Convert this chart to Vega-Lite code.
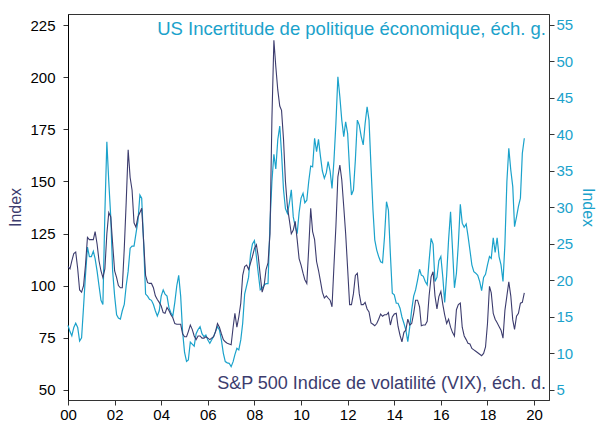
{
"$schema": "https://vega.github.io/schema/vega-lite/v6.json",
"width": 481, "height": 386,
"autosize": {"type": "none"},
"padding": {"left": 68, "top": 14, "right": 59, "bottom": 25},
"background": "white",
"config": {"font": "Liberation Sans", "view": {"stroke": "#333333", "strokeWidth": 1}, "axis": {"grid": false, "labelFontSize": 15, "tickSize": 5, "titleFontWeight": "normal", "titleFontSize": 16}},
"datasets": {
"series": [
{"d":"2000-01-01","epu":81,"vix":21.9},{"d":"2000-02-01","epu":78,"vix":21.6},{"d":"2000-03-01","epu":76,"vix":22.7},{"d":"2000-04-01","epu":80,"vix":23.7},{"d":"2000-05-01","epu":82,"vix":23.9},{"d":"2000-06-01","epu":80,"vix":21.6},{"d":"2000-07-01","epu":73.5,"vix":18.7},{"d":"2000-08-01","epu":75,"vix":18.4},{"d":"2000-09-01","epu":90,"vix":19.3},{"d":"2000-10-01","epu":105,"vix":22.1},{"d":"2000-11-01","epu":118.5,"vix":25.9},{"d":"2000-12-01","epu":114,"vix":25.6},
{"d":"2001-01-01","epu":114,"vix":25.6},{"d":"2001-02-01","epu":116.5,"vix":25.6},{"d":"2001-03-01","epu":113,"vix":26.7},{"d":"2001-04-01","epu":107,"vix":25.0},{"d":"2001-05-01","epu":100,"vix":22.7},{"d":"2001-06-01","epu":93,"vix":21.3},{"d":"2001-07-01","epu":91,"vix":20.4},{"d":"2001-08-01","epu":135,"vix":21.6},{"d":"2001-09-01","epu":169,"vix":26.4},{"d":"2001-10-01","epu":150,"vix":29.3},{"d":"2001-11-01","epu":133,"vix":28.7},{"d":"2001-12-01","epu":107,"vix":25.0},
{"d":"2002-01-01","epu":95,"vix":21.3},{"d":"2002-02-01","epu":86,"vix":20.4},{"d":"2002-03-01","epu":84.5,"vix":19.3},{"d":"2002-04-01","epu":84,"vix":19.0},{"d":"2002-05-01","epu":88,"vix":19.0},{"d":"2002-06-01","epu":91,"vix":24.4},{"d":"2002-07-01","epu":100,"vix":30.7},{"d":"2002-08-01","epu":107,"vix":37.9},{"d":"2002-09-01","epu":118,"vix":34.1},{"d":"2002-10-01","epu":119,"vix":32.4},{"d":"2002-11-01","epu":119,"vix":27.9},{"d":"2002-12-01","epu":125,"vix":27.3},
{"d":"2003-01-01","epu":131,"vix":28.7},{"d":"2003-02-01","epu":143.5,"vix":29.3},{"d":"2003-03-01","epu":142,"vix":29.9},{"d":"2003-04-01","epu":120,"vix":25.3},{"d":"2003-05-01","epu":96,"vix":20.7},{"d":"2003-06-01","epu":95,"vix":19.7},{"d":"2003-07-01","epu":93.5,"vix":19.6},{"d":"2003-08-01","epu":93,"vix":19.6},{"d":"2003-09-01","epu":91,"vix":19.0},{"d":"2003-10-01","epu":88,"vix":17.9},{"d":"2003-11-01","epu":85.5,"vix":17.4},{"d":"2003-12-01","epu":88,"vix":17.0},
{"d":"2004-01-01","epu":95,"vix":16.5},{"d":"2004-02-01","epu":98,"vix":15.6},{"d":"2004-03-01","epu":96,"vix":15.5},{"d":"2004-04-01","epu":95,"vix":16.3},{"d":"2004-05-01","epu":89.5,"vix":15.9},{"d":"2004-06-01","epu":87,"vix":15.3},{"d":"2004-07-01","epu":85.5,"vix":14.9},{"d":"2004-08-01","epu":92,"vix":14.1},{"d":"2004-09-01","epu":100,"vix":14.0},{"d":"2004-10-01","epu":105,"vix":14.0},{"d":"2004-11-01","epu":95,"vix":14.0},{"d":"2004-12-01","epu":78,"vix":12.7},
{"d":"2005-01-01","epu":68,"vix":12.3},{"d":"2005-02-01","epu":63.7,"vix":12.3},{"d":"2005-03-01","epu":64.4,"vix":13.0},{"d":"2005-04-01","epu":73,"vix":13.9},{"d":"2005-05-01","epu":72,"vix":13.3},{"d":"2005-06-01","epu":71,"vix":12.4},{"d":"2005-07-01","epu":77,"vix":11.9},{"d":"2005-08-01","epu":79,"vix":12.4},{"d":"2005-09-01","epu":80.4,"vix":12.4},{"d":"2005-10-01","epu":77,"vix":12.1},{"d":"2005-11-01","epu":75.6,"vix":12.1},{"d":"2005-12-01","epu":76.4,"vix":12.3},
{"d":"2006-01-01","epu":74,"vix":12.1},{"d":"2006-02-01","epu":72.4,"vix":11.9},{"d":"2006-03-01","epu":74,"vix":12.1},{"d":"2006-04-01","epu":75.6,"vix":12.3},{"d":"2006-05-01","epu":78,"vix":13.0},{"d":"2006-06-01","epu":80.4,"vix":14.1},{"d":"2006-07-01","epu":78.8,"vix":13.6},{"d":"2006-08-01","epu":74,"vix":12.7},{"d":"2006-09-01","epu":67.6,"vix":11.9},{"d":"2006-10-01","epu":63.6,"vix":11.6},{"d":"2006-11-01","epu":63,"vix":11.4},{"d":"2006-12-01","epu":62.8,"vix":11.3},
{"d":"2007-01-01","epu":61.2,"vix":11.2},{"d":"2007-02-01","epu":63.6,"vix":13.6},{"d":"2007-03-01","epu":67,"vix":15.5},{"d":"2007-04-01","epu":70,"vix":13.6},{"d":"2007-05-01","epu":69.2,"vix":15.0},{"d":"2007-06-01","epu":74,"vix":16.9},{"d":"2007-07-01","epu":82,"vix":20.7},{"d":"2007-08-01","epu":96,"vix":21.9},{"d":"2007-09-01","epu":100,"vix":22.1},{"d":"2007-10-01","epu":104,"vix":21.5},{"d":"2007-11-01","epu":115,"vix":22.4},{"d":"2007-12-01","epu":120,"vix":23.3},
{"d":"2008-01-01","epu":121.6,"vix":24.4},{"d":"2008-02-01","epu":114,"vix":24.9},{"d":"2008-03-01","epu":106,"vix":23.3},{"d":"2008-04-01","epu":98,"vix":20.7},{"d":"2008-05-01","epu":98.8,"vix":18.4},{"d":"2008-06-01","epu":100.4,"vix":19.3},{"d":"2008-07-01","epu":101,"vix":21.5},{"d":"2008-08-01","epu":101,"vix":22.4},{"d":"2008-09-01","epu":130,"vix":26.4},{"d":"2008-10-01","epu":150,"vix":42.1},{"d":"2008-11-01","epu":163,"vix":52.9},{"d":"2008-12-01","epu":156,"vix":49.3},
{"d":"2009-01-01","epu":170,"vix":46.1},{"d":"2009-02-01","epu":176.6,"vix":43.9},{"d":"2009-03-01","epu":163.5,"vix":43.3},{"d":"2009-04-01","epu":146,"vix":39.3},{"d":"2009-05-01","epu":137,"vix":33.6},{"d":"2009-06-01","epu":134.7,"vix":30.1},{"d":"2009-07-01","epu":139.5,"vix":28.3},{"d":"2009-08-01","epu":146,"vix":26.4},{"d":"2009-09-01","epu":133,"vix":26.9},{"d":"2009-10-01","epu":128.3,"vix":28.1},{"d":"2009-11-01","epu":125,"vix":25.6},{"d":"2009-12-01","epu":135,"vix":23.0},
{"d":"2010-01-01","epu":142,"vix":22.1},{"d":"2010-02-01","epu":144.3,"vix":21.0},{"d":"2010-03-01","epu":139.8,"vix":20.1},{"d":"2010-04-01","epu":141,"vix":19.6},{"d":"2010-05-01","epu":150,"vix":24.4},{"d":"2010-06-01","epu":157.4,"vix":29.9},{"d":"2010-07-01","epu":157,"vix":26.7},{"d":"2010-08-01","epu":170.7,"vix":25.6},{"d":"2010-09-01","epu":164.3,"vix":22.6},{"d":"2010-10-01","epu":170.2,"vix":21.4},{"d":"2010-11-01","epu":162,"vix":19.9},{"d":"2010-12-01","epu":155,"vix":18.4},
{"d":"2011-01-01","epu":151.5,"vix":17.6},{"d":"2011-02-01","epu":154.2,"vix":17.9},{"d":"2011-03-01","epu":159.5,"vix":17.6},{"d":"2011-04-01","epu":155,"vix":17.3},{"d":"2011-05-01","epu":146.7,"vix":16.4},{"d":"2011-06-01","epu":160.3,"vix":22.1},{"d":"2011-07-01","epu":177.8,"vix":27.4},{"d":"2011-08-01","epu":200.2,"vix":34.2},{"d":"2011-09-01","epu":190.6,"vix":35.8},{"d":"2011-10-01","epu":179.4,"vix":33.8},{"d":"2011-11-01","epu":171.5,"vix":30.1},{"d":"2011-12-01","epu":178.6,"vix":26.4},
{"d":"2012-01-01","epu":173,"vix":21.6},{"d":"2012-02-01","epu":155.5,"vix":16.7},{"d":"2012-03-01","epu":143.5,"vix":16.7},{"d":"2012-04-01","epu":145.9,"vix":18.2},{"d":"2012-05-01","epu":160.3,"vix":20.7},{"d":"2012-06-01","epu":179.4,"vix":21.0},{"d":"2012-07-01","epu":177,"vix":18.2},{"d":"2012-08-01","epu":171.5,"vix":16.7},{"d":"2012-09-01","epu":167.5,"vix":16.7},{"d":"2012-10-01","epu":177.8,"vix":17.0},{"d":"2012-11-01","epu":185.8,"vix":16.1},{"d":"2012-12-01","epu":179.4,"vix":15.7},
{"d":"2013-01-01","epu":157.1,"vix":14.2},{"d":"2013-02-01","epu":136.3,"vix":14.0},{"d":"2013-03-01","epu":122,"vix":13.8},{"d":"2013-04-01","epu":117.1,"vix":14.1},{"d":"2013-05-01","epu":114,"vix":14.7},{"d":"2013-06-01","epu":111.5,"vix":15.4},{"d":"2013-07-01","epu":111,"vix":15.1},{"d":"2013-08-01","epu":123.5,"vix":15.3},{"d":"2013-09-01","epu":140.3,"vix":15.3},{"d":"2013-10-01","epu":136.3,"vix":15.6},{"d":"2013-11-01","epu":115,"vix":13.9},{"d":"2013-12-01","epu":96.4,"vix":15.0},
{"d":"2014-01-01","epu":95.6,"vix":15.4},{"d":"2014-02-01","epu":91.6,"vix":15.5},{"d":"2014-03-01","epu":91.6,"vix":13.7},{"d":"2014-04-01","epu":89.2,"vix":12.5},{"d":"2014-05-01","epu":85,"vix":11.6},{"d":"2014-06-01","epu":82,"vix":12.9},{"d":"2014-07-01","epu":78.8,"vix":13.2},{"d":"2014-08-01","epu":73.2,"vix":14.7},{"d":"2014-09-01","epu":80.4,"vix":13.9},{"d":"2014-10-01","epu":88.4,"vix":14.1},{"d":"2014-11-01","epu":95,"vix":15.5},{"d":"2014-12-01","epu":98,"vix":17.3},
{"d":"2015-01-01","epu":102.7,"vix":17.3},{"d":"2015-02-01","epu":107.9,"vix":16.4},{"d":"2015-03-01","epu":105.1,"vix":13.8},{"d":"2015-04-01","epu":104.5,"vix":13.9},{"d":"2015-05-01","epu":102,"vix":13.9},{"d":"2015-06-01","epu":100.4,"vix":14.4},{"d":"2015-07-01","epu":112,"vix":17.9},{"d":"2015-08-01","epu":122.7,"vix":20.5},{"d":"2015-09-01","epu":120,"vix":21.2},{"d":"2015-10-01","epu":102,"vix":17.9},{"d":"2015-11-01","epu":104,"vix":16.1},{"d":"2015-12-01","epu":112,"vix":17.8},
{"d":"2016-01-01","epu":114,"vix":18.5},{"d":"2016-02-01","epu":104,"vix":16.7},{"d":"2016-03-01","epu":92,"vix":15.3},{"d":"2016-04-01","epu":105,"vix":14.1},{"d":"2016-05-01","epu":122,"vix":14.7},{"d":"2016-06-01","epu":135.5,"vix":13.6},{"d":"2016-07-01","epu":118,"vix":12.9},{"d":"2016-08-01","epu":99,"vix":12.4},{"d":"2016-09-01","epu":106,"vix":16.0},{"d":"2016-10-01","epu":120,"vix":16.7},{"d":"2016-11-01","epu":139,"vix":16.9},{"d":"2016-12-01","epu":130,"vix":13.6},
{"d":"2017-01-01","epu":128,"vix":12.4},{"d":"2017-02-01","epu":129.6,"vix":11.9},{"d":"2017-03-01","epu":124,"vix":11.4},{"d":"2017-04-01","epu":117,"vix":11.3},{"d":"2017-05-01","epu":110,"vix":10.7},{"d":"2017-06-01","epu":106.7,"vix":10.5},{"d":"2017-07-01","epu":106,"vix":10.3},{"d":"2017-08-01","epu":105,"vix":10.1},{"d":"2017-09-01","epu":102,"vix":9.9},{"d":"2017-10-01","epu":97.6,"vix":9.7},{"d":"2017-11-01","epu":104,"vix":10.0},{"d":"2017-12-01","epu":105.5,"vix":10.9},
{"d":"2018-01-01","epu":110,"vix":14.1},{"d":"2018-02-01","epu":114,"vix":19.2},{"d":"2018-03-01","epu":113.1,"vix":18.3},{"d":"2018-04-01","epu":123,"vix":15.5},{"d":"2018-05-01","epu":116,"vix":14.7},{"d":"2018-06-01","epu":123,"vix":14.2},{"d":"2018-07-01","epu":114,"vix":13.7},{"d":"2018-08-01","epu":110,"vix":13.2},{"d":"2018-09-01","epu":102,"vix":12.1},{"d":"2018-10-01","epu":120,"vix":15.9},{"d":"2018-11-01","epu":150,"vix":17.9},{"d":"2018-12-01","epu":165.9,"vix":19.8},
{"d":"2019-01-01","epu":155.5,"vix":17.9},{"d":"2019-02-01","epu":147.5,"vix":14.6},{"d":"2019-03-01","epu":128.3,"vix":13.3},{"d":"2019-04-01","epu":133,"vix":15.1},{"d":"2019-05-01","epu":138,"vix":15.5},{"d":"2019-06-01","epu":142,"vix":16.9},{"d":"2019-07-01","epu":163.5,"vix":17.0},{"d":"2019-08-01","epu":170.7,"vix":18.3}
]
},
"layer": [
{"data": {"name": "series"},
 "mark": {"type": "line", "color": "#1ba2cb", "strokeWidth": 1.2},
 "encoding": {
  "x": {"field": "d", "type": "temporal",
        "scale": {"domain": [{"year": 2000, "month": 1, "date": 1}, {"year": 2020, "month": 8, "date": 22}]},
        "axis": {"title": null, "format": "%y", "tickCount": {"interval": "year", "step": 2}, "labelFlush": false, "labelColor": "#000000", "labelPadding": 2, "domainColor": "#333333", "tickColor": "#333333"}},
  "y": {"field": "epu", "type": "quantitative",
        "scale": {"domain": [45.2, 230.3], "nice": false, "zero": false},
        "axis": {"orient": "left", "values": [50, 75, 100, 125, 150, 175, 200, 225], "title": "Index", "titleColor": "#3c3c6e", "titlePadding": 6, "labelColor": "#000000", "labelPadding": 8, "domainColor": "#000000", "tickColor": "#333333"}}
 }},
{"data": {"name": "series"},
 "mark": {"type": "line", "color": "#3c3c6e", "strokeWidth": 1.1},
 "encoding": {
  "x": {"field": "d", "type": "temporal"},
  "y": {"field": "vix", "type": "quantitative",
        "scale": {"domain": [3.63, 56.5], "nice": false, "zero": false},
        "axis": {"orient": "right", "values": [5, 10, 15, 20, 25, 30, 35, 40, 45, 50, 55], "title": "Index", "titleColor": "#1ba2cb", "titlePadding": 7, "labelColor": "#1ba2cb", "labelPadding": 2, "domainColor": "#333333", "tickColor": "#333333"}}
 }},
{"data": {"values": [{}]},
 "mark": {"type": "text", "text": "US Incertitude de politique économique, éch. g.", "align": "right", "baseline": "middle", "fontSize": 18.5, "color": "#1ba2cb"},
 "encoding": {
  "x": {"datum": {"year": 2020, "month": 7, "date": 6}, "type": "temporal"},
  "y": {"datum": 223.2, "type": "quantitative", "scale": {"domain": [45.2, 230.3], "nice": false, "zero": false}, "axis": null}
 }},
{"data": {"values": [{}]},
 "mark": {"type": "text", "text": "S&P 500 Indice de volatilité (VIX), éch. d.", "align": "right", "baseline": "middle", "fontSize": 18, "color": "#3c3c6e"},
 "encoding": {
  "x": {"datum": {"year": 2020, "month": 7, "date": 6}, "type": "temporal"},
  "y": {"datum": 52.9, "type": "quantitative", "scale": {"domain": [45.2, 230.3], "nice": false, "zero": false}, "axis": null}
 }}
],
"resolve": {"scale": {"y": "independent"}}
}
